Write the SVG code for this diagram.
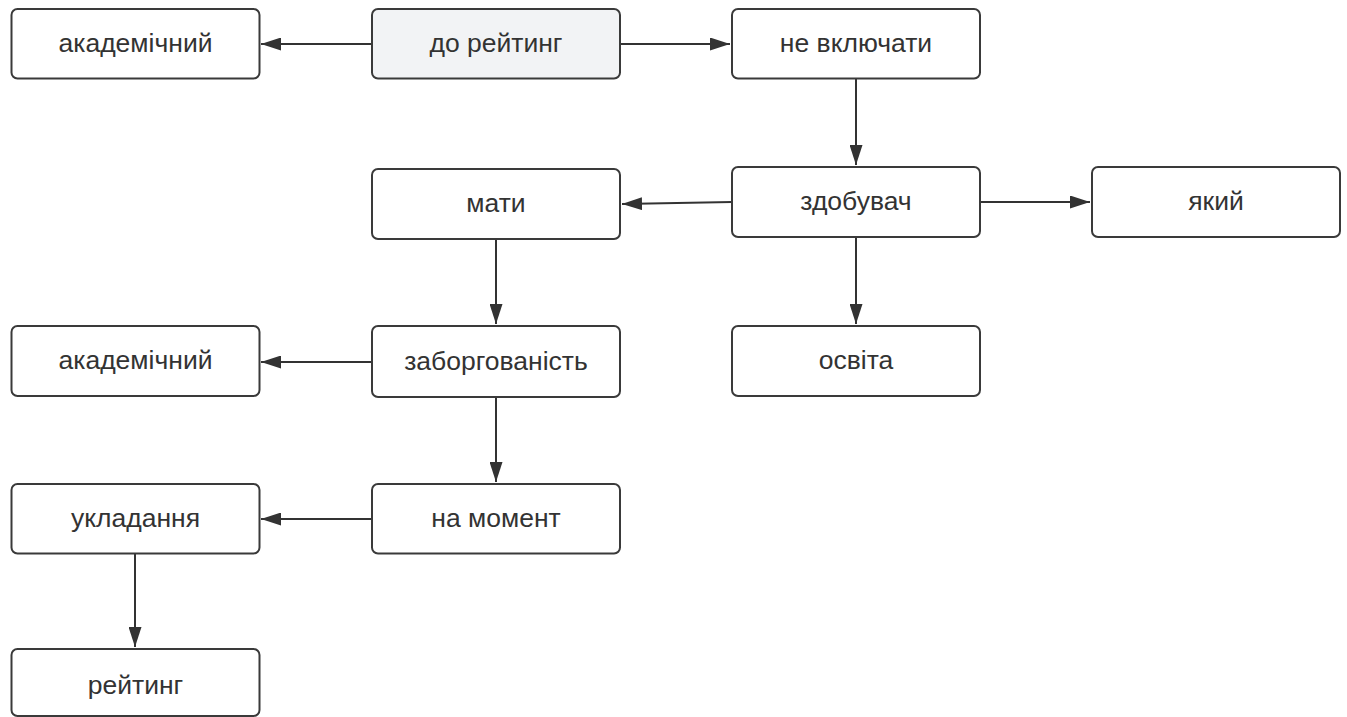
<svg xmlns="http://www.w3.org/2000/svg" width="1347" height="717" viewBox="0 0 1347 717">
<defs>
<style>
.n rect{fill:#ffffff;stroke:#3a3a3a;stroke-width:2}
.n.g rect{fill:#f2f3f5}
.n text{font-family:"Liberation Sans",Arial,sans-serif;font-size:26.5px;fill:#333333;text-anchor:middle}
.c path{fill:none;stroke:#333333;stroke-width:2;marker-end:url(#ah)}
</style>
<marker id="ah" viewBox="0 0 20 13" refX="20" refY="6.5" markerWidth="20" markerHeight="13" markerUnits="userSpaceOnUse" orient="auto">
<path d="M0,0 L20,6.5 L0,13 Z" fill="#333333"/>
</marker>
</defs>
<rect width="1347" height="717" fill="#ffffff"/>
<g class="c">
<path d="M372,44 L261,44"/>
<path d="M620,44 L730,44"/>
<path d="M856,79 L856,165"/>
<path d="M732,202 L622,204"/>
<path d="M980,202 L1090,202"/>
<path d="M856,237 L856,324"/>
<path d="M496,239 L496,324"/>
<path d="M372,362 L261,362"/>
<path d="M496,397 L496,482"/>
<path d="M372,519 L261,519"/>
<path d="M135,553 L135,647"/>
</g>
<g id="n1" class="n"><rect x="11.5" y="9" width="248" height="69.5" rx="6"/><text x="135.5" y="52">академічний</text></g>
<g id="n2" class="n g"><rect x="372" y="9" width="248" height="69.5" rx="6"/><text x="496" y="52">до рейтинг</text></g>
<g id="n3" class="n"><rect x="732" y="9" width="248" height="69.5" rx="6"/><text x="856" y="52">не включати</text></g>
<g id="n4" class="n"><rect x="372" y="169" width="248" height="70" rx="6"/><text x="496" y="212">мати</text></g>
<g id="n5" class="n"><rect x="732" y="167" width="248" height="70" rx="6"/><text x="856" y="210">здобувач</text></g>
<g id="n6" class="n"><rect x="1092" y="167" width="248" height="70" rx="6"/><text x="1216" y="210">який</text></g>
<g id="n7" class="n"><rect x="11.5" y="326" width="248" height="70" rx="6"/><text x="135.5" y="369">академічний</text></g>
<g id="n8" class="n"><rect x="372" y="326" width="248" height="71" rx="6"/><text x="496" y="369.5">заборгованість</text></g>
<g id="n9" class="n"><rect x="732" y="326" width="248" height="70" rx="6"/><text x="856" y="369">освіта</text></g>
<g id="n10" class="n"><rect x="11.5" y="484" width="248" height="69.5" rx="6"/><text x="135.5" y="527">укладання</text></g>
<g id="n11" class="n"><rect x="372" y="484" width="248" height="69.5" rx="6"/><text x="496" y="527">на момент</text></g>
<g id="n12" class="n"><rect x="11.5" y="649" width="248" height="67" rx="6"/><text x="135.5" y="694">рейтинг</text></g>
</svg>
